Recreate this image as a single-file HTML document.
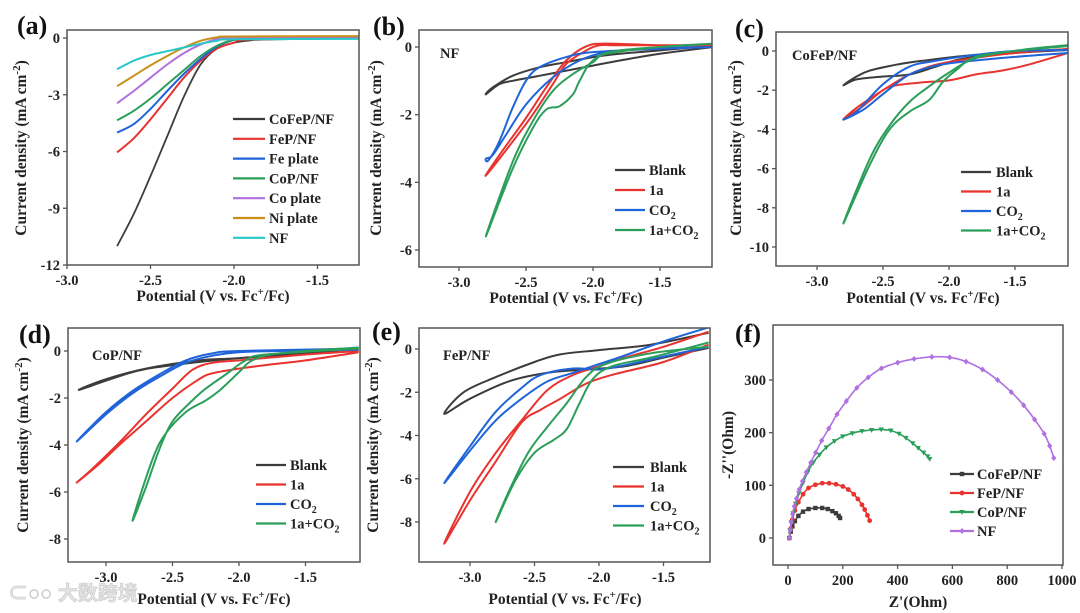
<!DOCTYPE html>
<html><head><meta charset="utf-8"><style>
html,body{margin:0;padding:0;background:#fff;}
svg{display:block;font-family:"Liberation Serif","Noto Serif CJK SC",serif;font-weight:bold;}
</style></head><body>
<svg id="fig" width="1080" height="613" viewBox="0 0 1080 613" xmlns="http://www.w3.org/2000/svg">
<text x="8" y="600" font-family="'Liberation Sans','Noto Sans CJK SC',sans-serif" font-size="20" fill="#e4e4e4" stroke="#c8c8c8" stroke-width="0.6">⊂○○ 大数跨境</text>
</svg>
<script>
// ---------- data ----------
const aCoFeP=[[-2.7,-11],[-2.6,-9.3],[-2.5,-7.3],[-2.4,-5.2],[-2.3,-3.1],[-2.2,-1.4],[-2.1,-0.55],[-2.0,-0.25],[-1.9,-0.12],[-1.8,-0.08],[-1.25,0]];
const aFeP=[[-2.7,-6.05],[-2.6,-5.3],[-2.5,-4.3],[-2.4,-3.2],[-2.3,-2.1],[-2.2,-1.2],[-2.1,-0.55],[-2.0,-0.25],[-1.9,-0.08],[-1.25,0]];
const aFe=[[-2.7,-5.0],[-2.6,-4.55],[-2.5,-3.75],[-2.4,-2.8],[-2.3,-1.9],[-2.2,-1.1],[-2.1,-0.45],[-2.0,-0.1],[-1.9,0],[-1.25,0.02]];
const aCoP=[[-2.7,-4.35],[-2.6,-3.85],[-2.5,-3.2],[-2.4,-2.45],[-2.3,-1.7],[-2.2,-0.95],[-2.1,-0.4],[-2.0,-0.1],[-1.9,-0.03],[-1.25,0]];
const aCo=[[-2.7,-3.45],[-2.6,-2.8],[-2.5,-2.1],[-2.4,-1.4],[-2.3,-0.8],[-2.2,-0.35],[-2.1,-0.05],[-2.0,0.03],[-1.25,0.05]];
const aNi=[[-2.7,-2.55],[-2.6,-2.0],[-2.5,-1.45],[-2.4,-0.95],[-2.3,-0.5],[-2.2,-0.15],[-2.1,0.04],[-2.0,0.08],[-1.25,0.1]];
const aNF=[[-2.7,-1.65],[-2.6,-1.2],[-2.5,-0.9],[-2.4,-0.7],[-2.3,-0.5],[-2.2,-0.3],[-2.1,-0.15],[-2.0,-0.07],[-1.25,-0.05]];

const bBlank=[[-1.1,0.0],[-1.5,-0.2],[-1.8,-0.4],[-2.0,-0.55],[-2.2,-0.7],[-2.4,-0.85],[-2.6,-1.0],[-2.7,-1.1],[-2.8,-1.4],[-2.75,-1.2],[-2.6,-0.85],[-2.4,-0.6],[-2.2,-0.45],[-2.0,-0.3],[-1.8,-0.2],[-1.5,-0.1],[-1.1,0.05]];
const b1a=[[-1.1,0.05],[-1.8,0.05],[-1.95,0.05],[-2.05,-0.1],[-2.2,-0.5],[-2.3,-1.1],[-2.45,-2.0],[-2.6,-2.8],[-2.8,-3.8],[-2.7,-3.2],[-2.5,-2.1],[-2.35,-1.2],[-2.2,-0.4],[-2.05,0.02],[-1.9,0.1],[-1.5,0.05],[-1.1,0.05]];
const bCO2=[[-1.1,0.0],[-1.6,-0.05],[-1.9,-0.15],[-2.1,-0.4],[-2.3,-0.9],[-2.5,-1.7],[-2.65,-2.6],[-2.75,-3.2],[-2.8,-3.3],[-2.78,-3.35],[-2.7,-2.8],[-2.6,-1.8],[-2.5,-1.0],[-2.4,-0.6],[-2.2,-0.3],[-2.0,-0.15],[-1.5,-0.05],[-1.1,0.0]];
const b1aCO2=[[-1.1,0.1],[-1.8,-0.1],[-2.0,-0.4],[-2.1,-1.0],[-2.15,-1.4],[-2.25,-1.75],[-2.35,-1.85],[-2.45,-2.4],[-2.6,-3.6],[-2.8,-5.6],[-2.6,-3.4],[-2.45,-2.2],[-2.3,-1.3],[-2.15,-0.8],[-2.0,-0.45],[-1.9,-0.2],[-1.5,0],[-1.1,0.1]];

const cBlank=[[-1.1,0.1],[-1.8,-0.2],[-2.2,-0.5],[-2.4,-0.7],[-2.6,-1.0],[-2.7,-1.3],[-2.8,-1.75],[-2.7,-1.45],[-2.5,-1.3],[-2.3,-1.2],[-2.1,-0.8],[-1.9,-0.4],[-1.5,-0.1],[-1.1,0.05]];
const c1a=[[-1.1,-0.1],[-1.4,-0.7],[-1.6,-1.0],[-1.8,-1.2],[-2.0,-1.5],[-2.2,-1.6],[-2.4,-1.75],[-2.5,-2.0],[-2.65,-2.8],[-2.8,-3.5],[-2.7,-2.9],[-2.5,-2.0],[-2.3,-1.2],[-2.1,-0.7],[-1.8,-0.35],[-1.5,-0.1],[-1.1,0.1]];
const cCO2=[[-1.1,-0.1],[-1.5,-0.3],[-1.9,-0.55],[-2.1,-0.75],[-2.3,-1.2],[-2.5,-2.2],[-2.65,-3.0],[-2.8,-3.5],[-2.7,-3.1],[-2.5,-1.7],[-2.3,-0.8],[-2.1,-0.5],[-1.8,-0.2],[-1.5,0],[-1.1,0.05]];
const c1aCO2=[[-1.1,0.25],[-1.5,0],[-1.8,-0.3],[-1.95,-1.0],[-2.05,-1.6],[-2.15,-2.5],[-2.3,-3.1],[-2.45,-4.0],[-2.6,-5.8],[-2.8,-8.8],[-2.6,-5.5],[-2.45,-3.8],[-2.3,-2.6],[-2.15,-1.8],[-2.0,-1.1],[-1.85,-0.5],[-1.7,-0.2],[-1.4,0.1],[-1.1,0.3]];

const dBlank=[[-1.1,0.1],[-1.5,-0.1],[-2.0,-0.3],[-2.5,-0.6],[-2.8,-0.9],[-3.2,-1.65],[-3.0,-1.2],[-2.7,-0.75],[-2.3,-0.4],[-2.0,-0.3],[-1.5,-0.05],[-1.1,0.1]];
const d1a=[[-1.1,-0.05],[-1.5,-0.4],[-1.8,-0.6],[-2.0,-0.75],[-2.2,-0.95],[-2.3,-1.2],[-2.5,-2.0],[-2.7,-3.0],[-2.9,-4.0],[-3.05,-4.8],[-3.22,-5.6],[-3.1,-5.0],[-2.9,-3.9],[-2.7,-2.7],[-2.5,-1.6],[-2.35,-0.8],[-2.2,-0.5],[-2.0,-0.4],[-1.5,-0.15],[-1.1,0]];
const dCO2=[[-1.1,0.05],[-1.7,0],[-2.0,-0.05],[-2.2,-0.2],[-2.4,-0.5],[-2.6,-1.1],[-2.8,-1.8],[-3.0,-2.7],[-3.22,-3.85],[-3.0,-2.6],[-2.8,-1.7],[-2.6,-1.0],[-2.4,-0.4],[-2.2,-0.1],[-2.0,0],[-1.1,0.1]];
const d1aCO2=[[-1.1,0.15],[-1.7,-0.1],[-1.9,-0.4],[-2.0,-0.9],[-2.15,-1.7],[-2.25,-2.1],[-2.4,-2.6],[-2.55,-3.5],[-2.65,-4.6],[-2.8,-7.2],[-2.7,-5.8],[-2.6,-4.2],[-2.5,-3.0],[-2.35,-2.1],[-2.25,-1.6],[-2.1,-1.0],[-1.95,-0.4],[-1.8,-0.15],[-1.1,0.1]];

const eBlank=[[-1.15,0.05],[-1.5,-0.4],[-1.8,-0.8],[-2.1,-0.95],[-2.4,-1.1],[-2.7,-1.5],[-3.0,-2.3],[-3.2,-3.0],[-3.05,-2.0],[-2.8,-1.3],[-2.5,-0.6],[-2.3,-0.25],[-2.0,-0.05],[-1.6,0.2],[-1.15,0.75]];
const e1a=[[-1.15,0.8],[-1.5,0.1],[-1.8,-0.4],[-2.0,-0.8],[-2.2,-1.2],[-2.4,-1.9],[-2.6,-3.3],[-2.8,-4.8],[-3.0,-6.6],[-3.2,-9.0],[-3.0,-7.0],[-2.8,-5.2],[-2.6,-3.4],[-2.45,-2.8],[-2.3,-2.3],[-2.1,-1.6],[-1.9,-1.2],[-1.5,-0.6],[-1.15,0.2]];
const eCO2=[[-1.15,1.0],[-1.5,0.35],[-1.8,-0.3],[-2.0,-0.7],[-2.2,-1.1],[-2.4,-1.5],[-2.6,-2.3],[-2.8,-3.3],[-3.0,-4.7],[-3.2,-6.2],[-3.0,-4.5],[-2.8,-2.9],[-2.6,-1.8],[-2.45,-1.2],[-2.2,-0.9],[-2.0,-0.95],[-1.8,-0.75],[-1.5,-0.35],[-1.15,0.1]];
const e1aCO2=[[-1.15,0.3],[-1.6,-0.4],[-1.9,-0.8],[-2.05,-1.4],[-2.15,-2.5],[-2.25,-3.7],[-2.35,-4.2],[-2.5,-4.8],[-2.65,-6.1],[-2.8,-8.0],[-2.7,-6.6],[-2.55,-4.8],[-2.4,-3.6],[-2.25,-2.5],[-2.1,-1.3],[-1.95,-0.7],[-1.6,-0.2],[-1.15,0.1]];

const fNFx=[5,8,12,17,23,31,41,53,67,83,101,123,149,179,213,251,293,341,400,460,525,590,650,710,765,815,860,900,935,955,970];
const fNFy=[0,15,30,45,60,75,92,108,125,143,162,185,208,235,260,285,305,322,333,340,344,343,335,320,300,277,252,225,198,175,152];
const fCoPx=[5,8,12,19,28,40,55,72,92,115,140,170,200,235,270,305,340,375,405,430,455,475,495,510,517];
const fCoPy=[0,15,30,47,65,85,105,125,143,158,172,184,193,199,203,205,206,204,198,190,180,171,162,155,150];
const fFePx=[5,10,16,25,38,55,75,100,125,150,175,200,220,240,255,270,280,290,298];
const fFePy=[0,18,35,52,68,83,95,101,104,104,102,98,92,83,74,63,54,43,33];
const fCoFePx=[5,10,16,25,38,55,75,100,125,145,162,175,185,190];
const fCoFePy=[0,12,22,32,42,50,55,57,57,55,51,47,42,38];

const xTicksV=[-3.0,-2.5,-2.0,-1.5];
const xTickLabelsV=["-3.0","-2.5","-2.0","-1.5"];
const aYTicks=[0,-3,-6,-9,-12];
const bYTicks=[0,-2,-4,-6];
const cYTicks=[0,-2,-4,-6,-8,-10];
const dYTicks=[0,-2,-4,-6,-8];
const eYTicks=[0,-2,-4,-6,-8];
const fXTicks=[0,200,400,600,800,1000];
const fYTicks=[0,100,200,300];
const cvNames=["Blank","1a","CO2","1a+CO2"];
const aNames=["CoFeP/NF","FeP/NF","Fe plate","CoP/NF","Co plate","Ni plate","NF"];
const fNames=["CoFeP/NF","FeP/NF","CoP/NF","NF"];

// ---------- drawing ----------
const NS="http://www.w3.org/2000/svg";
const svg=document.getElementById('fig');
const C={k:"#3c3c3c",r:"#e8332f",b:"#1f64d8",g:"#2b9e5a",p:"#b070e0",o:"#c8901a",c:"#28c8c8"};
function mk(tag,attrs,parent){const e=document.createElementNS(NS,tag);for(const k in attrs)e.setAttribute(k,attrs[k]);(parent||svg).appendChild(e);return e;}
function smooth(pts){let d="M"+pts[0][0].toFixed(1)+","+pts[0][1].toFixed(1);
 for(let i=0;i<pts.length-1;i++){const p0=pts[Math.max(0,i-1)],p1=pts[i],p2=pts[i+1],p3=pts[Math.min(pts.length-1,i+2)];
  const c1=[p1[0]+(p2[0]-p0[0])/6,p1[1]+(p2[1]-p0[1])/6],c2=[p2[0]-(p3[0]-p1[0])/6,p2[1]-(p3[1]-p1[1])/6];
  d+=" C"+c1[0].toFixed(1)+","+c1[1].toFixed(1)+" "+c2[0].toFixed(1)+","+c2[1].toFixed(1)+" "+p2[0].toFixed(1)+","+p2[1].toFixed(1);}
 return d;}
function lin(p0,v0,p1,v1){return v=>p0+(v-v0)*(p1-p0)/(v1-v0);}

function panel(P){
 const g=mk('g',{});
 
 
 const sx=lin(P.xp[0],P.xv[0],P.xp[1],P.xv[1]), sy=lin(P.yp[0],P.yv[0],P.yp[1],P.yv[1]);
 const clip=mk('clipPath',{id:'clip-'+P.id},g);
 mk('rect',{x:P.box[0],y:P.box[1],width:P.box[2]-P.box[0],height:P.box[3]-P.box[1]},clip);
 const plot=mk('g',{'clip-path':'url(#clip-'+P.id+')'},g);
 
 
 P.series.forEach((s,i)=>{
  let pts=s.d.map(q=>[sx(q[0]),sy(q[1])]);
  const path=mk('path',{d:smooth(pts),fill:'none',stroke:s.c,'stroke-width':s.w||2,'stroke-linejoin':'round'},plot);
  
  
  if(s.m){pts.forEach(p=>marker(plot,s.m,p[0],p[1],s.c));}
 });
 const frame=mk('rect',{x:P.box[0],y:P.box[1],width:P.box[2]-P.box[0],height:P.box[3]-P.box[1],fill:'none',stroke:'#555','stroke-width':1.5},g);
 
 
 P.xt.forEach((v,i)=>{const x=sx(v);
  mk('line',{x1:x,x2:x,y1:P.box[3],y2:P.box[3]+4,stroke:'#555','stroke-width':1.3},g);
  const t=mk('text',{x:x,y:P.box[3]+20,'text-anchor':'middle','font-size':14.5,fill:'#222'},g);t.textContent=P.xl[i];
  
  });
 P.yt.forEach(v=>{const y=sy(v);
  mk('line',{x1:P.box[0]-4,x2:P.box[0],y1:y,y2:y,stroke:'#555','stroke-width':1.3},g);
  const t=mk('text',{x:P.box[0]-7,y:y+5,'text-anchor':'end','font-size':14.5,fill:'#222'},g);t.textContent=String(v);
  
  });
 const xt=mk('text',{x:P.xtitle[0],y:P.xtitle[1],'text-anchor':'middle','font-size':15.5,fill:'#222'},g);
 xt.innerHTML=P.xtxt;
 
 
 const yt=mk('text',{x:0,y:0,'text-anchor':'middle','font-size':15.5,fill:'#222',transform:'translate('+P.ytitle[0]+','+P.ytitle[1]+') rotate(-90)'},g);
 yt.innerHTML=P.ytxt;
 
 
 const lab=mk('text',{x:P.lab[0],y:P.lab[1],'font-size':26,fill:'#111'},g);lab.textContent='('+P.id+')';
 
 
 if(P.ann){const a=mk('text',{x:P.ann[0],y:P.ann[1],'font-size':14.5,fill:'#222'},g);a.textContent=P.ann[2];
  
  }
 const L=P.leg;
 P.series.forEach((s,i)=>{const y=L.y0+i*L.dy;
  const lg=mk('g',{},g);
  
  
  mk('line',{x1:L.x1,x2:L.x2,y1:y,y2:y,stroke:s.c,'stroke-width':2.2},lg);
  if(s.m)marker(lg,s.m,(L.x1+L.x2)/2,y,s.c);
  const t=mk('text',{x:L.tx,y:y+5,'font-size':L.fs||14.5,fill:'#222'},lg);
  t.innerHTML=s.n==="CO2"?'CO<tspan font-size="10" dy="4">2</tspan>':s.n==="1a+CO2"?'1a+CO<tspan font-size="10" dy="4">2</tspan>':s.n;});
}
function marker(parent,m,x,y,c){
 if(m==='s')mk('rect',{x:x-2.2,y:y-2.2,width:4.4,height:4.4,fill:c},parent);
 else if(m==='o')mk('circle',{cx:x,cy:y,r:2.4,fill:c},parent);
 else if(m==='v')mk('path',{d:`M${x-2.8},${y-2} L${x+2.8},${y-2} L${x},${y+2.8}Z`,fill:c},parent);
 else mk('path',{d:`M${x},${y-3} L${x+2.6},${y} L${x},${y+3} L${x-2.6},${y}Z`,fill:c},parent);
}
const XT='Potential (V vs. Fc<tspan font-size="11" dy="-6">+</tspan><tspan dy="6">/Fc)</tspan>';
const YT='Current density (mA cm<tspan font-size="11" dy="-6">-2</tspan><tspan dy="6">)</tspan>';
function cv(b,r,bl,g){return [{n:cvNames[0],d:b,c:C.k},{n:cvNames[1],d:r,c:C.r},{n:cvNames[2],d:bl,c:C.b},{n:cvNames[3],d:g,c:C.g}];}

panel({id:'a',box:[67,30,359,265],xp:[67,234],xv:[-3.0,-2.0],yp:[38,265],yv:[0,-12],xt:xTicksV,xl:xTickLabelsV,yt:aYTicks,
 xtitle:[213,301],ytitle:[26,148],xtxt:XT,ytxt:YT,lab:[17,34],
 series:[{n:aNames[0],d:aCoFeP,c:C.k,w:1.8},{n:aNames[1],d:aFeP,c:C.r},{n:aNames[2],d:aFe,c:C.b},{n:aNames[3],d:aCoP,c:C.g},{n:aNames[4],d:aCo,c:C.p},{n:aNames[5],d:aNi,c:C.o},{n:aNames[6],d:aNF,c:C.c}],
 leg:{x1:233,x2:265,tx:269,y0:119,dy:19.8}});
panel({id:'b',box:[419,30,712,267],xp:[459,593],xv:[-3.0,-2.0],yp:[47,250],yv:[0,-6],xt:xTicksV,xl:xTickLabelsV,yt:bYTicks,
 xtitle:[566,303],ytitle:[381,148],xtxt:XT,ytxt:YT,lab:[373,35],ann:[440,58,'NF'],
 series:cv(bBlank,b1a,bCO2,b1aCO2),leg:{x1:615,x2:645,tx:649,y0:170,dy:20}});
panel({id:'c',box:[776,32,1068,266],xp:[817,949],xv:[-3.0,-2.0],yp:[51,247],yv:[0,-10],xt:xTicksV,xl:xTickLabelsV,yt:cYTicks,
 xtitle:[923,303],ytitle:[741,148],xtxt:XT,ytxt:YT,lab:[735,37],ann:[792,60,'CoFeP/NF'],
 series:cv(cBlank,c1a,cCO2,c1aCO2),leg:{x1:961,x2:991,tx:996,y0:172,dy:19.5}});
panel({id:'d',box:[68,328,360,562],xp:[106,239],xv:[-3.0,-2.0],yp:[351,539],yv:[0,-8],xt:xTicksV,xl:xTickLabelsV,yt:dYTicks,
 xtitle:[214,604],ytitle:[28,445],xtxt:XT,ytxt:YT,lab:[19,343],ann:[92,360,'CoP/NF'],
 series:cv(dBlank,d1a,dCO2,d1aCO2),leg:{x1:256,x2:286,tx:290,y0:465,dy:19.5}});
panel({id:'e',box:[419,328,710,562],xp:[470,599],xv:[-3.0,-2.0],yp:[349,522],yv:[0,-8],xt:xTicksV,xl:xTickLabelsV,yt:eYTicks,
 xtitle:[565,604],ytitle:[378,445],xtxt:XT,ytxt:YT,lab:[372,340],ann:[443,360,'FeP/NF'],
 series:cv(eBlank,e1a,eCO2,e1aCO2),leg:{x1:613,x2:644,tx:650,y0:467,dy:19.5}});
const zip=(a,b)=>a.map((v,i)=>[v,b[i]]);
panel({id:'f',box:[773,325,1063,565],xp:[788,1062],xv:[0,1000],yp:[538,380],yv:[0,300],xt:fXTicks,xl:fXTicks.map(String),yt:fYTicks,
 xtitle:[918,607],ytitle:[733,445],xtxt:"Z'(Ohm)",ytxt:"-Z''(Ohm)",lab:[735,342],
 series:[{n:fNames[0],d:zip(fCoFePx,fCoFePy),c:C.k,m:'s',w:1.6},{n:fNames[1],d:zip(fFePx,fFePy),c:C.r,m:'o',w:1.6},{n:fNames[2],d:zip(fCoPx,fCoPy),c:C.g,m:'v',w:1.6},{n:fNames[3],d:zip(fNFx,fNFy),c:C.p,m:'d',w:1.6}],
 leg:{x1:950,x2:974,tx:977,y0:474,dy:19}});
</script>
</body></html>
